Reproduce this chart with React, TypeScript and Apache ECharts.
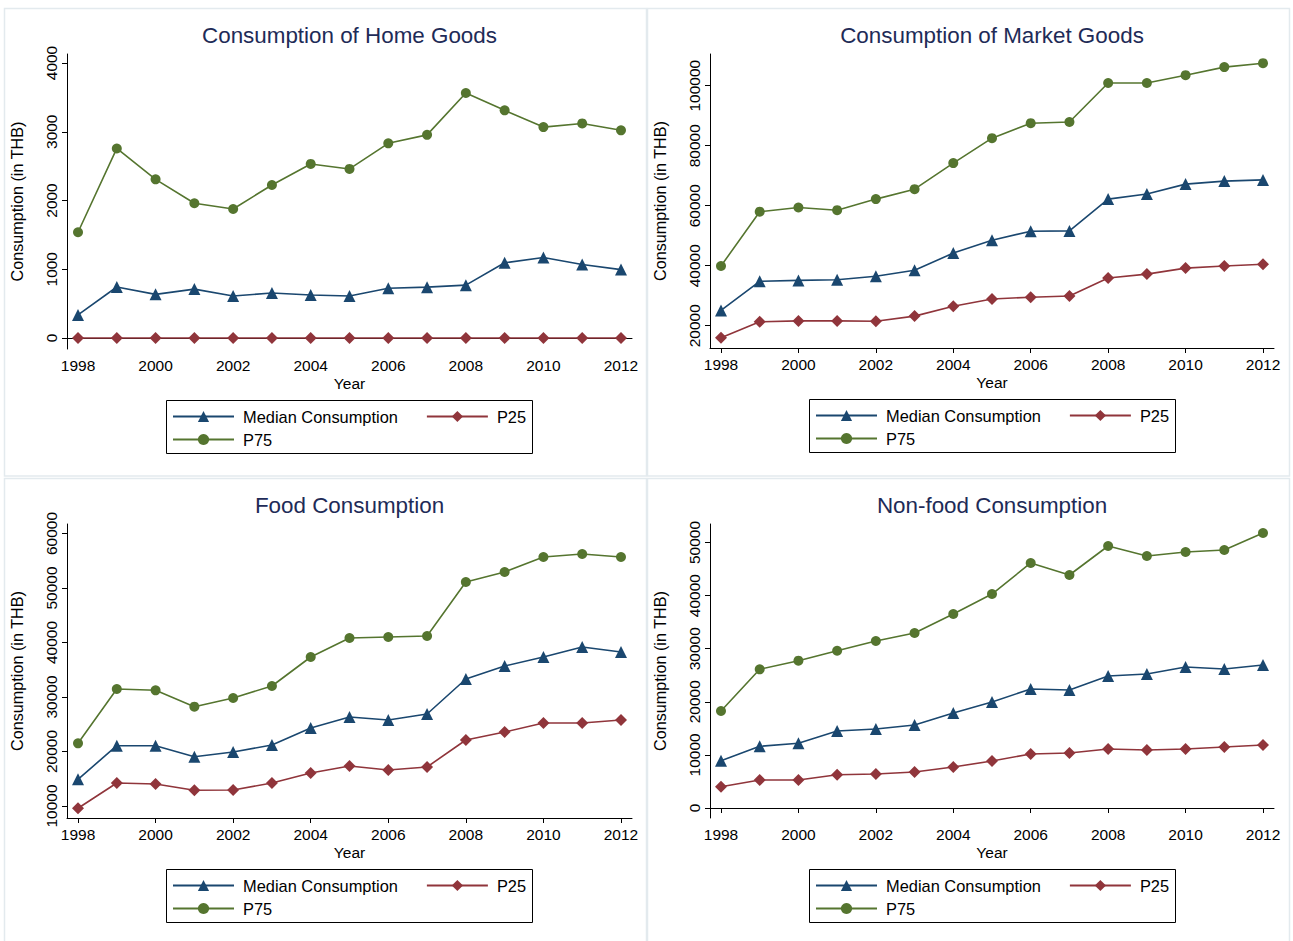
import React, { useEffect, useRef } from "react";
import * as echarts from "echarts";

// Survey years
const years = [1998, 1999, 2000, 2001, 2002, 2003, 2004, 2005, 2006, 2007, 2008, 2009, 2010, 2011, 2012];
const yearTicks = [1998, 2000, 2002, 2004, 2006, 2008, 2010, 2012];

// Consumption of home goods (THB)
const homeMedian = [335, 742, 635, 711, 611, 655, 626, 611, 723, 740, 769, 1094, 1170, 1068, 995];
const homeP25 = [0, 0, 0, 0, 0, 0, 0, 0, 0, 0, 0, 0, 0, 0, 0];
const homeP75 = [1538, 2757, 2308, 1960, 1877, 2226, 2532, 2459, 2832, 2955, 3564, 3312, 3068, 3121, 3021];
const homeTicks = [0, 1000, 2000, 3000, 4000];

// Consumption of market goods (THB)
const marketMedian = [25100, 34800, 35100, 35300, 36500, 38500, 44200, 48500, 51500, 51600, 62200, 63900, 67200, 68200, 68600];
const marketP25 = [16000, 21300, 21600, 21600, 21500, 23200, 26500, 28900, 29500, 29900, 35900, 37200, 39200, 39900, 40500];
const marketP75 = [39900, 58000, 59400, 58500, 62200, 65500, 74200, 82500, 87500, 87900, 100900, 100900, 103500, 106200, 107500];
const marketTicks = [20000, 40000, 60000, 80000, 100000];

// Food consumption (THB)
const foodMedian = [14900, 21060, 21060, 19050, 19900, 21190, 24300, 26330, 25780, 26880, 33300, 35690, 37340, 39170, 38260];
const foodP25 = [9580, 14220, 14040, 12880, 12940, 14220, 16050, 17340, 16610, 17160, 22110, 23580, 25230, 25230, 25780];
const foodP75 = [21500, 31470, 31230, 28220, 29820, 32020, 37340, 40830, 41010, 41190, 51100, 52940, 55690, 56240, 55690];
const foodTicks = [10000, 20000, 30000, 40000, 50000, 60000];

// Non-food consumption (THB)
const nonfoodMedian = [8910, 11620, 12190, 14500, 14880, 15630, 17890, 19960, 22410, 22220, 24860, 25240, 26550, 26180, 26930];
const nonfoodP25 = [4010, 5270, 5270, 6270, 6400, 6780, 7720, 8850, 10170, 10360, 11110, 10920, 11110, 11490, 11860];
const nonfoodP75 = [18270, 26120, 27740, 29620, 31450, 32960, 36540, 40300, 46140, 43880, 49340, 47460, 48210, 48590, 51790];
const nonfoodTicks = [0, 10000, 20000, 30000, 40000, 50000];

const panelTitles = ["Consumption of Home Goods", "Consumption of Market Goods", "Food Consumption", "Non-food Consumption"];
const seriesNames = ["Median Consumption", "P25", "P75"];

const NAVY = "#1a476f";
const MAROON = "#90353b";
const GREEN = "#55752f";
const FONT = "'Liberation Sans', Arial, Helvetica, sans-serif";

interface Panel {
  title: string;
  median: number[];
  p25: number[];
  p75: number[];
  ticks: number[];
  yMin: number;
  yMax: number;
  grid: { left: number; top: number; width: number; height: number };
}

const panels: Panel[] = [
  { title: panelTitles[0], median: homeMedian, p25: homeP25, p75: homeP75, ticks: homeTicks, yMin: -160, yMax: 4131, grid: { left: 67, top: 54, width: 565, height: 295 } },
  { title: panelTitles[1], median: marketMedian, p25: marketP25, p75: marketP75, ticks: marketTicks, yMin: 12567, yMax: 110567, grid: { left: 710, top: 54, width: 564, height: 294 } },
  { title: panelTitles[2], median: foodMedian, p25: foodP25, p75: foodP75, ticks: foodTicks, yMin: 7798, yMax: 61743, grid: { left: 67, top: 524, width: 565, height: 294 } },
  { title: panelTitles[3], median: nonfoodMedian, p25: nonfoodP25, p75: nonfoodP75, ticks: nonfoodTicks, yMin: -1883, yMax: 53484, grid: { left: 710, top: 524, width: 564, height: 294 } },
];

const pairs = (vals: number[]) => years.map((y, i) => [y, vals[i]]);

export default function App() {
  const ref = useRef<HTMLDivElement>(null);

  useEffect(() => {
    if (!ref.current) return;
    const chart = echarts.init(ref.current, undefined, { renderer: "svg" });

    const grids: any[] = [];
    const xAxes: any[] = [];
    const yAxes: any[] = [];
    const titles: any[] = [];
    const series: any[] = [];
    const legends: any[] = [];
    const graphics: any[] = [];

    // light frames around each sub-graph
    const frames = [
      { x: 4.5, y: 8.5, w: 642, h: 467.5 },
      { x: 647.5, y: 8.5, w: 642, h: 467.5 },
      { x: 4.5, y: 478.5, w: 642, h: 470 },
      { x: 647.5, y: 478.5, w: 642, h: 470 },
    ];
    frames.forEach((f) => {
      graphics.push({
        type: "rect",
        shape: { x: f.x, y: f.y, width: f.w, height: f.h },
        style: { fill: "none", stroke: "#e3eaee", lineWidth: 1.5 },
        silent: true,
      });
    });

    panels.forEach((p, i) => {
      const g = p.grid;
      grids.push({ left: g.left, top: g.top, width: g.width, height: g.height, containLabel: false });
      xAxes.push({
        type: "value",
        gridIndex: i,
        min: 1997.716,
        max: 2012.284,
        name: "Year",
        nameLocation: "middle",
        nameGap: 26,
        nameTextStyle: { color: "#000", fontSize: 15.5, fontFamily: FONT },
        axisLine: { show: true, lineStyle: { color: "#000", width: 1 } },
        axisTick: { show: true, length: 5, lineStyle: { color: "#000" }, customValues: yearTicks },
        axisLabel: { color: "#000", fontSize: 15.5, fontFamily: FONT, margin: 8, customValues: yearTicks, formatter: (v: number) => String(v) },
        splitLine: { show: false },
      });
      yAxes.push({
        type: "value",
        gridIndex: i,
        min: p.yMin,
        max: p.yMax,
        name: "Consumption (in THB)",
        nameLocation: "middle",
        nameGap: 42,
        nameRotate: 90,
        nameTextStyle: { color: "#000", fontSize: 16.2, fontFamily: FONT },
        axisLine: { show: true, lineStyle: { color: "#000", width: 1 } },
        axisTick: { show: true, length: 5, lineStyle: { color: "#000" }, customValues: p.ticks },
        axisLabel: { color: "#000", fontSize: 15.5, fontFamily: FONT, rotate: 90, margin: 8, customValues: p.ticks, formatter: (v: number) => String(v) },
        splitLine: { show: false },
      });
      titles.push({
        text: p.title,
        left: g.left + g.width / 2,
        top: g.top - 30,
        textAlign: "center",
        padding: 0,
        textStyle: { color: "#1e2b57", fontSize: 22.4, fontWeight: "normal", fontFamily: FONT },
      });

      const common = {
        type: "line",
        xAxisIndex: i,
        yAxisIndex: i,
        showSymbol: true,
        symbolKeepAspect: true,
        silent: true,
      };
      series.push({
        ...common,
        name: seriesNames[0],
        data: pairs(p.median),
        symbol: "triangle",
        symbolSize: 12,
        itemStyle: { color: NAVY },
        lineStyle: { color: NAVY, width: 1.6 },
        z: 3,
      });
      series.push({
        ...common,
        name: seriesNames[1],
        data: pairs(p.p25),
        symbol: "diamond",
        symbolSize: 12,
        itemStyle: { color: MAROON },
        lineStyle: { color: MAROON, width: 1.6 },
        z: 2,
      });
      series.push({
        ...common,
        name: seriesNames[2],
        data: pairs(p.p75),
        symbol: "circle",
        symbolSize: 10,
        itemStyle: { color: GREEN },
        lineStyle: { color: GREEN, width: 1.6 },
        z: 4,
      });

      // legend box under each plot
      const boxLeft = g.left + 99;
      const boxTop = g.top + g.height + 51.5;
      graphics.push({
        type: "rect",
        shape: { x: boxLeft + 0.5, y: boxTop, width: 366, height: 53 },
        style: { fill: "#fff", stroke: "#000", lineWidth: 1 },
        silent: true,
        z: -1,
      });
      const legendCommon = {
        orient: "horizontal",
        left: boxLeft + 6,
        padding: 0,
        itemWidth: 61,
        itemHeight: 14,
        itemGap: 28,
        selectedMode: false,
        textStyle: { color: "#000", fontSize: 16.4, fontFamily: FONT, padding: [0, 0, 0, 4] },
      };
      legends.push({ ...legendCommon, top: boxTop + 8, data: [seriesNames[0], seriesNames[1]] });
      legends.push({ ...legendCommon, top: boxTop + 31, data: [seriesNames[2]] });
    });

    chart.setOption({
      animation: false,
      backgroundColor: "#fff",
      textStyle: { fontFamily: FONT },
      title: titles,
      grid: grids,
      xAxis: xAxes,
      yAxis: yAxes,
      legend: legends,
      series,
      graphic: graphics,
    });

    return () => chart.dispose();
  }, []);

  return (
    <div
      ref={ref}
      style={{ position: "absolute", left: 0, top: 0, width: 1293, height: 941, background: "#fff" }}
    />
  );
}
